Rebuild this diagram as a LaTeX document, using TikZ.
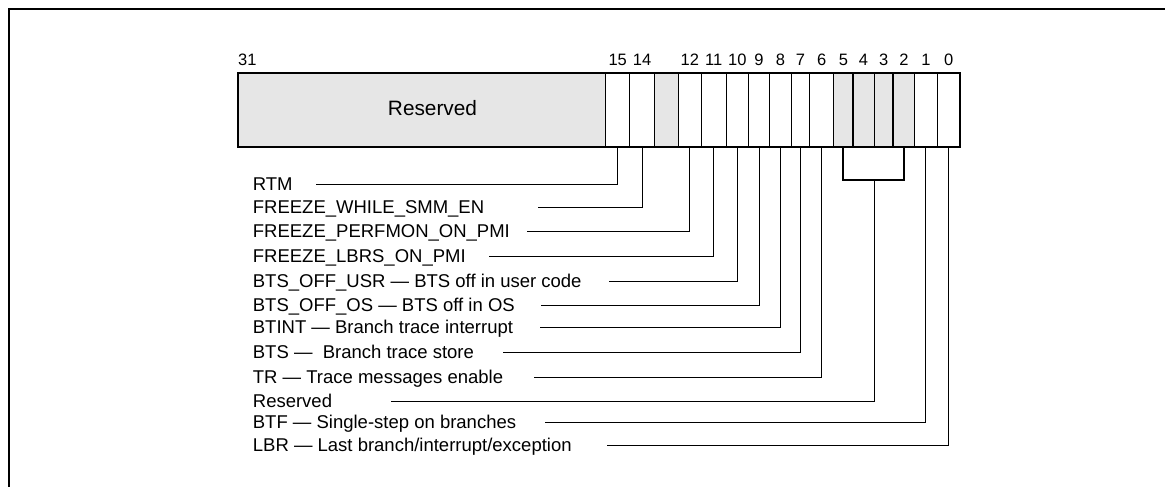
\documentclass[tikz,border=0pt]{standalone}
\usepackage{fontspec}
\setmainfont{Liberation Sans}
\definecolor{regfill}{HTML}{E6E6E6}
\begin{document}
\begin{tikzpicture}[x=1pt,y=-1pt,
  cell/.style={draw, line width=0.9pt, minimum height=74pt, inner sep=0pt, outer sep=0pt, anchor=north west},
  lbl/.style={anchor=base west, inner sep=0pt, font=\fontsize{18.5}{22}\selectfont},
  bitno/.style={anchor=base, inner sep=0pt, font=\fontsize{16.5}{19}\selectfont},
  leader/.style={line width=1pt},
  heavy/.style={line width=2pt},
]
\useasboundingbox (0,0) rectangle (1165,487);
% open frame
\draw[line width=1.8pt] (9,487) -- (9,9) -- (1165,9);

% register cells: name / left / right / fill
\foreach \n/\l/\r/\f in {
  r/238/605.7/regfill, 15/605.7/629.7/white, 14/629.7/654.3/white,
  13/654.3/678.3/regfill, 12/678.3/701.3/white, 11/701.3/726.3/white,
  10/726.3/748.3/white, 9/748.3/769.7/white, 8/769.7/791.3/white,
  7/791.3/809.7/white, 6/809.7/833.7/white, 5/833.7/853/regfill,
  4/853/874/regfill, 3/874/893.3/regfill, 2/893.3/914.5/regfill,
  1/914.5/937.3/white, 0/937.3/960/white}
  \node[cell, fill=\f, minimum width={\r-\l}] (c\n) at (\l,73) {};

\draw[heavy] (cr.north west) rectangle (c0.south east);
\draw[heavy] (c5.north east) -- (c5.south east);
\draw[heavy] (c3.north east) -- (c3.south east);

\node[anchor=base, inner sep=0pt, font=\fontsize{20.8}{24}\selectfont] (rtext) at (432.5,115.7) {Reserved};

% bit numbers
\node[bitno, anchor=base west] (n31) at (238,65.3) {31};
\foreach \b in {15,14,12,11,10,9,8,7,6,5,4,3,2,1,0}
  \path (c\b.north) ++(0,-7.3) node[bitno] (n\b) {\b};

% field names
\node[lbl] (t15) at (252.7,190) {RTM};
\node[lbl] (t14) at (252.7,213.7) {FREEZE\_WHILE\_SMM\_EN};
\node[lbl] (t12) at (252.7,237) {FREEZE\_PERFMON\_ON\_PMI};
\node[lbl] (t11) at (252.7,262.7) {FREEZE\_LBRS\_ON\_PMI};
\node[lbl] (t10) at (252.7,287.7) {BTS\_OFF\_USR — BTS off in user code};
\node[lbl] (t9)  at (252.7,311) {BTS\_OFF\_OS — BTS off in OS};
\node[lbl] (t8)  at (252.7,333.7) {BTINT — Branch trace interrupt};
\node[lbl] (t7)  at (252.7,358.7) {BTS —\ \ Branch trace store};
\node[lbl] (t6)  at (252.7,383.3) {TR — Trace messages enable};
\node[lbl] (tr)  at (252.7,407) {Reserved};
\node[lbl] (t1)  at (252.7,428.3) {BTF — Single-step on branches};
\node[lbl] (t0)  at (252.7,451.3) {LBR — Last branch/interrupt/exception};

% leader ends
\coordinate (e15) at (316,184);
\coordinate (e14) at (538.3,207.7);
\coordinate (e12) at (526.7,231);
\coordinate (e11) at (489.3,256.7);
\coordinate (e10) at (609.3,281.7);
\coordinate (e9)  at (540.7,305);
\coordinate (e8)  at (540,327.7);
\coordinate (e7)  at (502.7,352.7);
\coordinate (e6)  at (534,377.3);
\coordinate (er)  at (391,401);
\coordinate (e1)  at (545,422.3);
\coordinate (e0)  at (606.7,445.3);

\foreach \b in {15,14,12,11,10,9,8,7,6,1,0}
  \draw[leader] (c\b.south) |- (e\b);

% bracket joining bits 5..2
\coordinate (bk5) at (c5.south |- 0,180);
\coordinate (bk2) at (c2.south |- 0,180);
\draw[heavy] (c5.south) -- (bk5) -- (bk2) -- (c2.south);
\coordinate (bkm) at (c4.south east |- 0,180);
\draw[leader] (bkm) |- (er);
\end{tikzpicture}
\end{document}
